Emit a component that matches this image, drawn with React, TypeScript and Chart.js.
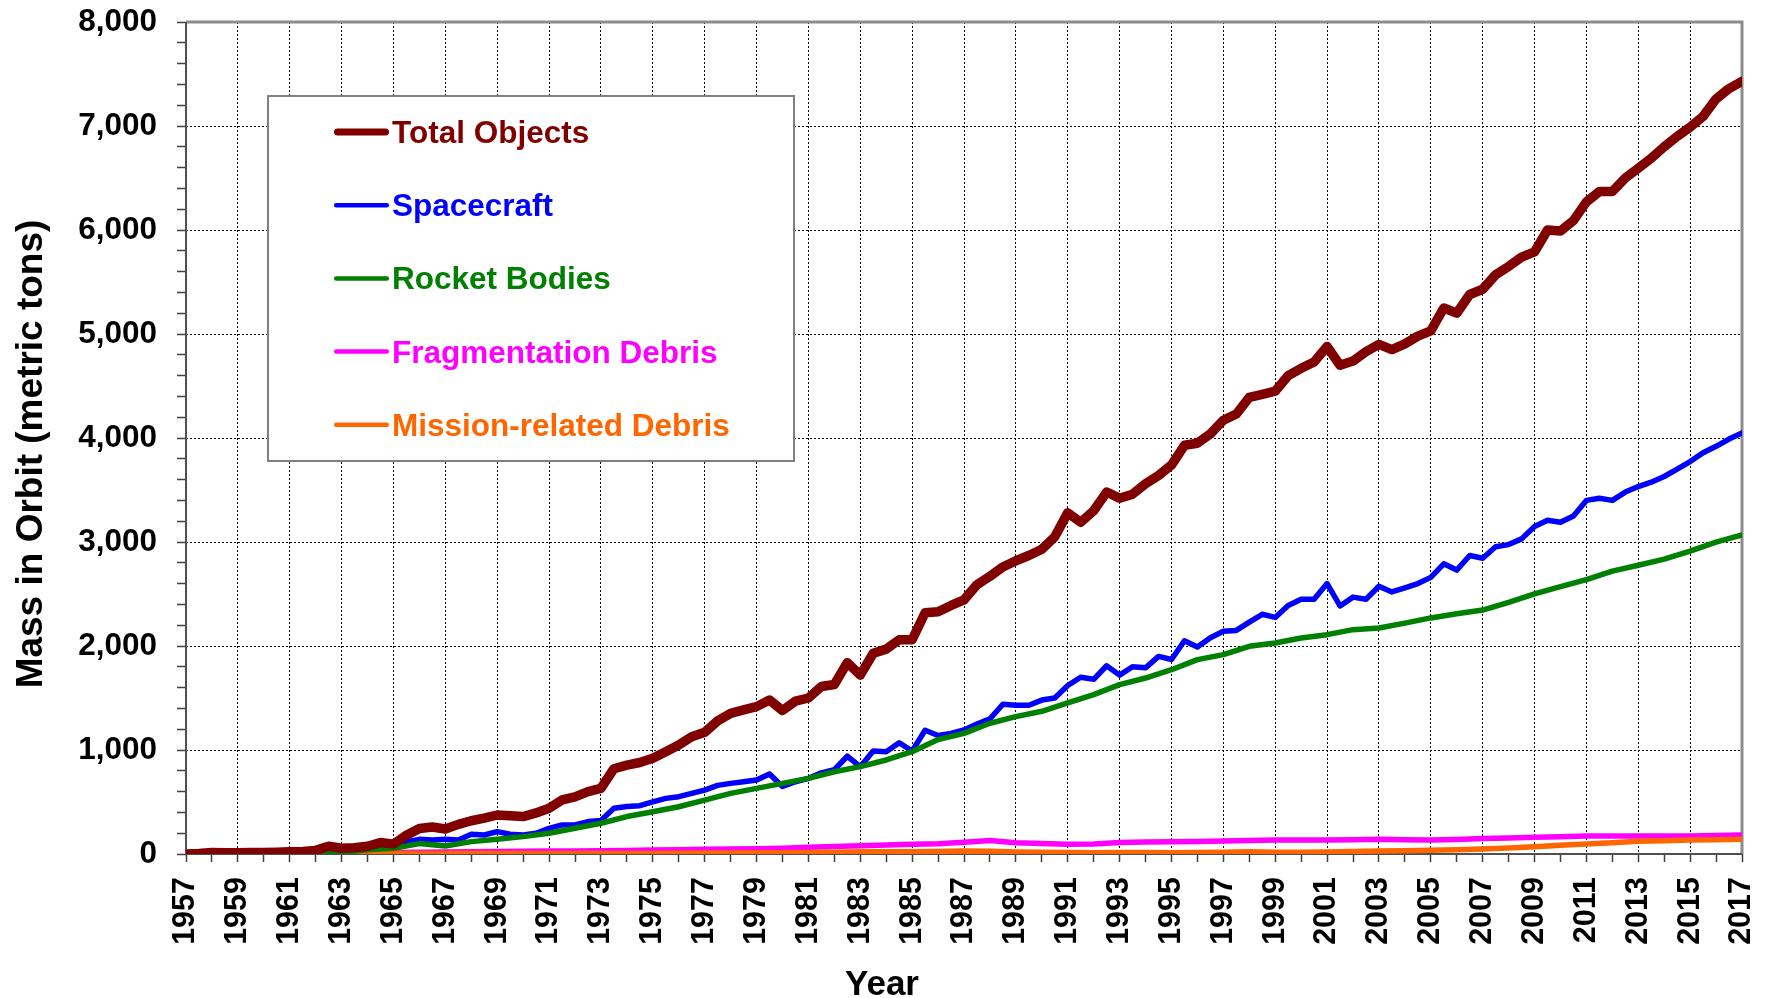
import React, { useEffect, useRef } from 'react';
import { Chart, registerables } from 'chart.js';

Chart.register(...registerables);

const FONT = "'Liberation Sans', Arial, Helvetica, sans-serif";

const START_YEAR = 1957;
const END_YEAR = 2017;

const seriesLabels = ['Total Objects', 'Spacecraft', 'Rocket Bodies', 'Fragmentation Debris', 'Mission-related Debris'];
const seriesColors = ['#800000', '#0000FF', '#008000', '#FF00FF', '#FF6600'];
const seriesWidths = [9.5, 5.5, 5.5, 5.5, 5.5];

const xAxisTitle = 'Year';
const yAxisTitle = 'Mass in Orbit (metric tons)';

// half-year samples, 1957.0 ... 2017.0
const totalObjects = [
  0, 5, 15, 12, 12, 14, 15, 18, 22, 25, 35, 75, 55, 60, 75, 110, 95, 180, 245, 260,
  240, 285, 320, 345, 375, 368, 360, 395, 440, 520, 550, 600, 630, 820, 855, 880, 920, 984, 1048, 1128,
  1170, 1280, 1353, 1385, 1417, 1480, 1380, 1470, 1500, 1610, 1630, 1840, 1720, 1930, 1970, 2060, 2060, 2320, 2330, 2390,
  2444, 2590, 2670, 2760, 2820, 2870, 2930, 3050, 3280, 3190, 3300, 3480, 3420, 3460, 3560, 3640, 3740, 3930, 3950, 4040,
  4170, 4230, 4390, 4420, 4450, 4600, 4670, 4730, 4880, 4700, 4740, 4830, 4900, 4850, 4905, 4980, 5030, 5250, 5200, 5380,
  5430, 5570, 5650, 5740, 5790, 6000, 5990, 6090, 6270, 6370, 6370, 6500, 6594, 6690, 6800, 6900, 6990, 7093, 7260, 7360,
  7430,
];

const spacecraft = [
  0, 3, 8, 8, 8, 10, 10, 12, 15, 18, 25, 50, 40, 45, 55, 80, 87, 119, 141, 135,
  141, 135, 190, 183, 215, 190, 183, 199, 247, 280, 280, 312, 322, 440, 457, 465, 502, 535, 551, 583,
  615, 660, 679, 695, 711, 770, 650, 695, 727, 780, 810, 940, 840, 990, 984, 1070, 990, 1190, 1140, 1160,
  1193, 1250, 1300, 1440, 1430, 1430, 1480, 1500, 1620, 1700, 1680, 1810, 1720, 1800, 1790, 1900, 1870, 2050, 1990, 2080,
  2141, 2150, 2230, 2305, 2275, 2390, 2450, 2450, 2600, 2385, 2470, 2450, 2575, 2520, 2560, 2600, 2660, 2790, 2730, 2870,
  2844, 2955, 2975, 3030, 3150, 3210, 3190, 3250, 3400, 3420, 3400, 3480, 3533, 3575, 3630, 3700, 3773, 3859, 3920, 3990,
  4049,
];

// yearly samples, 1957 ... 2017
const rocketBodies = [
  0, 5, 6, 6, 8, 12, 15, 40, 55, 100, 77, 119, 141, 167, 199, 247, 296, 360, 406, 454,
  518, 583, 631, 679, 727, 791, 840, 904, 984, 1100, 1160, 1257, 1321, 1372, 1452, 1532, 1628, 1692, 1772, 1869,
  1917, 1997, 2029, 2077, 2109, 2157, 2173, 2220, 2270, 2310, 2346, 2420, 2501, 2570, 2638, 2720, 2776, 2835, 2913, 2999,
  3068,
];

const fragmentationDebris = [
  0, 2, 3, 4, 6, 8, 10, 12, 14, 18, 20, 22, 24, 26, 28, 30, 32, 34, 38, 42,
  45, 48, 51, 56, 64, 72, 80, 86, 93, 98, 112, 130, 108, 102, 94, 96, 110, 115, 118, 120,
  125, 130, 134, 135, 134, 138, 141, 138, 134, 140, 150, 155, 160, 166, 173, 173, 173, 173, 173, 177,
  182,
];

const missionDebris = [
  0, 1, 1, 2, 2, 3, 3, 4, 4, 5, 5, 5, 6, 6, 6, 6, 6, 6, 6, 8,
  9, 10, 12, 13, 15, 18, 22, 22, 22, 25, 29, 26, 20, 16, 14, 13, 14, 15, 13, 15,
  16, 22, 18, 18, 19, 24, 29, 32, 35, 41, 48, 58, 70, 83, 96, 109, 122, 128, 134, 137,
  141,
];

const halfYearX = totalObjects.map((_, i) => START_YEAR + i * 0.5);
const yearX = rocketBodies.map((_, i) => START_YEAR + i);

const toPoints = (xs: number[], ys: number[]) => ys.map((y, i) => ({ x: xs[i], y }));

const zeroPadding = (scale: any) => {
  scale.paddingTop = 0;
  scale.paddingBottom = 0;
  scale.paddingLeft = 0;
  scale.paddingRight = 0;
};

const decorPlugin = {
  id: 'decor',
  beforeDatasetsDraw(chart: any) {
    const { ctx, chartArea: a } = chart;
    ctx.save();
    ctx.lineCap = 'butt';
    ctx.strokeStyle = '#8c8c8c';
    ctx.lineWidth = 3;
    ctx.beginPath();
    ctx.moveTo(a.left, a.top);
    ctx.lineTo(a.right, a.top);
    ctx.lineTo(a.right, a.bottom);
    ctx.stroke();
    ctx.strokeStyle = '#505050';
    ctx.lineWidth = 2;
    ctx.beginPath();
    ctx.moveTo(a.left, a.top);
    ctx.lineTo(a.left, a.bottom);
    ctx.lineTo(a.right, a.bottom);
    ctx.stroke();
    ctx.restore();
  },
  afterDatasetsDraw(chart: any) {
    const { ctx, chartArea: a } = chart;
    const bx = a.left + 82;
    const by = a.top + 74;
    const bw = 526;
    const bh = 365;
    ctx.save();
    ctx.fillStyle = '#ffffff';
    ctx.fillRect(bx, by, bw, bh);
    ctx.strokeStyle = '#808080';
    ctx.lineWidth = 2;
    ctx.strokeRect(bx, by, bw, bh);
    ctx.font = `bold 31.5px ${FONT}`;
    ctx.textAlign = 'left';
    ctx.textBaseline = 'alphabetic';
    seriesLabels.forEach((label, i) => {
      const ly = by + 36 + i * 73.2;
      ctx.strokeStyle = seriesColors[i];
      ctx.lineWidth = i === 0 ? 7 : 4.5;
      ctx.lineCap = 'round';
      const cap = ctx.lineWidth / 2;
      ctx.beginPath();
      ctx.moveTo(bx + 66 + cap, ly);
      ctx.lineTo(bx + 121 - cap, ly);
      ctx.stroke();
      ctx.fillStyle = seriesColors[i];
      ctx.fillText(label, bx + 124, ly + 11);
    });
    ctx.restore();
  },
  afterDraw(chart: any) {
    const { ctx } = chart;
    ctx.save();
    ctx.fillStyle = '#000';
    ctx.textBaseline = 'alphabetic';
    ctx.textAlign = 'center';
    ctx.font = `bold 35px ${FONT}`;
    ctx.fillText(xAxisTitle, 882, 995);
    ctx.translate(42, 454);
    ctx.rotate(-Math.PI / 2);
    ctx.font = `bold 37px ${FONT}`;
    ctx.fillText(yAxisTitle, 0, 0);
    ctx.restore();
  },
};

export default function App() {
  const canvasRef = useRef<HTMLCanvasElement | null>(null);

  useEffect(() => {
    const canvas = canvasRef.current;
    if (!canvas) return;
    const order = [0, 4, 1, 3, 2];
    const ys = [totalObjects, spacecraft, rocketBodies, fragmentationDebris, missionDebris];
    const xs = [halfYearX, halfYearX, yearX, yearX, yearX];
    const datasets = seriesLabels.map((label, i) => ({
      label,
      data: toPoints(xs[i], ys[i]),
      borderColor: seriesColors[i],
      backgroundColor: seriesColors[i],
      borderWidth: seriesWidths[i],
      pointRadius: 0,
      pointHoverRadius: 0,
      tension: 0,
      fill: false,
      borderJoinStyle: 'round' as const,
      borderCapStyle: 'round' as const,
      order: order[i],
    }));

    const chart = new Chart(canvas, {
      type: 'line',
      data: { datasets },
      plugins: [decorPlugin],
      options: {
        animation: false,
        responsive: false,
        devicePixelRatio: 1,
        layout: { padding: { left: 0, top: 22, right: 24, bottom: 0 } },
        plugins: {
          legend: { display: false },
          tooltip: { enabled: false },
          title: { display: false },
        },
        scales: {
          x: {
            type: 'linear',
            min: START_YEAR,
            max: END_YEAR,
            afterFit: (scale: any) => {
              scale.height = 144;
              zeroPadding(scale);
            },
            border: { display: false, dash: [2, 2] },
            grid: {
              color: (c: any) => (c.tick && Math.round(c.tick.value) % 2 === 1 ? '#000000' : 'rgba(0,0,0,0)'),
              lineWidth: 1,
              tickColor: '#404040',
              tickWidth: 1.5,
              tickLength: 8,
              tickBorderDash: [],
              drawTicks: true,
            },
            ticks: {
              stepSize: 1,
              maxTicksLimit: 1000,
              autoSkip: false,
              minRotation: 90,
              maxRotation: 90,
              padding: 15,
              color: '#000',
              font: { family: FONT, size: 30.5, weight: 'bold' },
              callback: (v: any) => (Math.round(v) % 2 === 1 ? String(Math.round(v)) : ''),
            },
          },
          y: {
            type: 'linear',
            min: 0,
            max: 8000,
            afterFit: (scale: any) => {
              scale.width = 186;
              zeroPadding(scale);
            },
            border: { display: false, dash: [2, 2] },
            grid: {
              color: (c: any) => (c.tick && c.tick.value % 1000 === 0 ? '#000000' : 'rgba(0,0,0,0)'),
              lineWidth: 1,
              tickColor: '#404040',
              tickWidth: 1.5,
              tickLength: 9,
              tickBorderDash: [],
            },
            ticks: {
              stepSize: 200,
              maxTicksLimit: 1000,
              autoSkip: false,
              padding: 20,
              color: '#000',
              font: { family: FONT, size: 31.5, weight: 'bold' },
              callback: (v: any) => (v % 1000 === 0 ? Number(v).toLocaleString('en-US') : ''),
            },
          },
        },
      },
    });

    return () => {
      chart.destroy();
    };
  }, []);

  return (
    <div style={{ position: 'fixed', left: 0, top: 0, width: 1766, height: 998, background: '#fff' }}>
      <canvas ref={canvasRef} width={1766} height={998} style={{ display: 'block' }} />
    </div>
  );
}
